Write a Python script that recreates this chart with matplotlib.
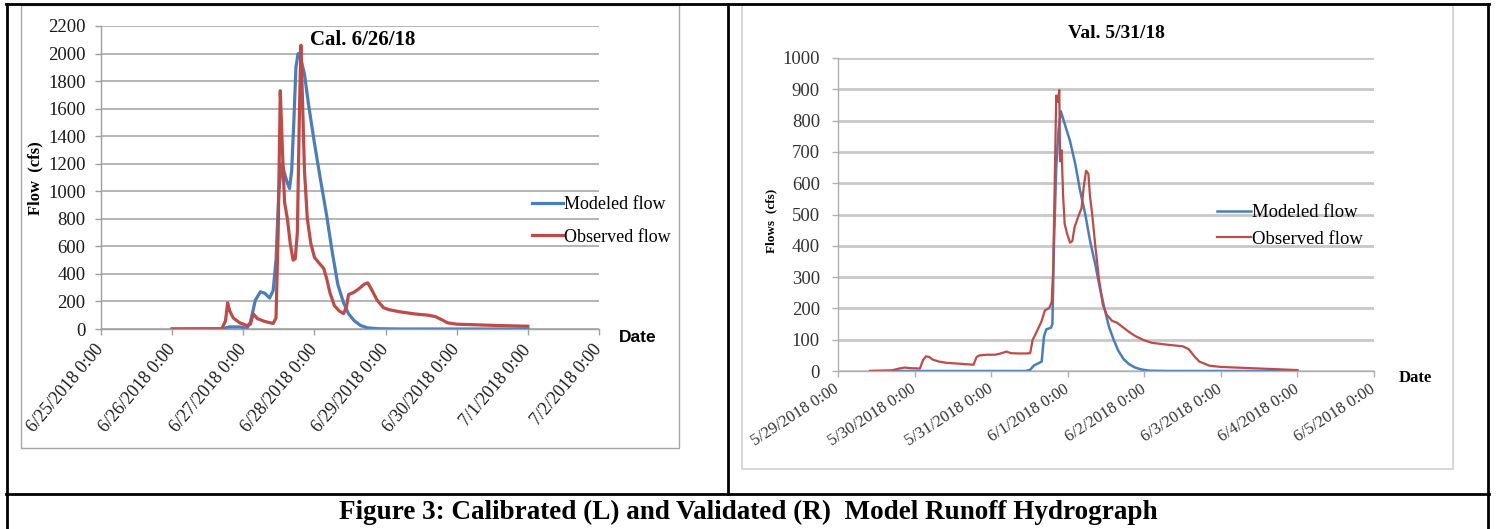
import matplotlib
matplotlib.use("Agg")
import matplotlib.pyplot as plt
from matplotlib.lines import Line2D
from matplotlib.patches import Rectangle

W, H = 1497, 529
SERIF = "Liberation Serif"
BLUE = "#4A7EBB"
RED = "#BE4B48"

# calibration event, time in days after 6/25/2018 0:00
cal_ticks = ["6/25/2018 0:00", "6/26/2018 0:00", "6/27/2018 0:00", "6/28/2018 0:00",
             "6/29/2018 0:00", "6/30/2018 0:00", "7/1/2018 0:00", "7/2/2018 0:00"]
cal_obs_t = [1.00, 1.70, 1.75, 1.78, 1.81, 1.86, 1.95, 2.05, 2.10, 2.14, 2.20, 2.30,
             2.42, 2.46, 2.49, 2.52, 2.55, 2.58, 2.62, 2.66, 2.70, 2.73, 2.76, 2.79,
             2.81, 2.83, 2.86, 2.90, 2.95, 3.00, 3.08, 3.13, 3.17, 3.22, 3.28, 3.35,
             3.41, 3.45, 3.48, 3.55, 3.62, 3.70, 3.75, 3.80, 3.88, 3.97, 4.05, 4.20,
             4.40, 4.60, 4.70, 4.78, 4.87, 5.00, 5.30, 5.60, 6.00]
cal_obs_q = [0, 2, 60, 190, 130, 80, 45, 25, 35, 110, 75, 55,
             40, 80, 700, 1730, 1300, 920, 800, 620, 500, 510, 700, 1600,
             2060, 1700, 1150, 800, 620, 520, 470, 440, 370, 260, 170, 130,
             112, 160, 250, 265, 290, 325, 335, 290, 210, 155, 140, 125,
             110, 100, 90, 70, 45, 35, 30, 25, 20]
cal_mod_t = [1.00, 1.70, 1.80, 1.95, 2.05, 2.10, 2.17, 2.24, 2.30, 2.37, 2.42, 2.46,
             2.50, 2.54, 2.58, 2.62, 2.65, 2.68, 2.71, 2.74, 2.77, 2.81, 2.86, 2.92,
             3.00, 3.08, 3.17, 3.25, 3.33, 3.41, 3.48, 3.56, 3.65, 3.75, 3.90, 4.20,
             6.00]
cal_mod_q = [0, 0, 15, 15, 5, 50, 210, 270, 260, 225, 280, 500,
             1000, 1200, 1130, 1060, 1020, 1150, 1500, 1900, 2000, 1960, 1850, 1620,
             1350, 1100, 830, 560, 320, 190, 110, 60, 25, 8, 2, 0,
             0]

# validation event, time in days after 5/29/2018 0:00
val_ticks = ["5/29/2018 0:00", "5/30/2018 0:00", "5/31/2018 0:00", "6/1/2018 0:00",
             "6/2/2018 0:00", "6/3/2018 0:00", "6/4/2018 0:00", "6/5/2018 0:00"]
val_obs_t = [0.42, 0.70, 0.80, 0.87, 0.95, 1.07, 1.11, 1.15, 1.19, 1.24, 1.32, 1.42,
             1.60, 1.77, 1.81, 1.85, 1.94, 2.05, 2.11, 2.20, 2.26, 2.35, 2.45, 2.51,
             2.54, 2.60, 2.66, 2.70, 2.76, 2.79, 2.81, 2.83, 2.85, 2.87, 2.89, 2.90,
             2.92, 2.94, 2.96, 2.99, 3.03, 3.06, 3.09, 3.14, 3.18, 3.21, 3.24, 3.27,
             3.29, 3.32, 3.36, 3.41, 3.46, 3.51, 3.58, 3.64, 3.72, 3.80, 3.88, 3.99,
             4.10, 4.30, 4.50, 4.58, 4.65, 4.72, 4.85, 5.00, 5.30, 5.60, 6.00]
val_obs_q = [0, 2, 8, 11, 9, 8, 35, 47, 45, 36, 30, 26,
             23, 20, 45, 50, 52, 52, 55, 62, 57, 56, 56, 57,
             98, 128, 160, 193, 202, 220, 320, 600, 880, 860, 898, 670,
             705, 560, 470, 440, 410, 415, 460, 495, 520, 590, 640, 630,
             560, 500, 400, 290, 210, 180, 160, 155, 140, 125, 112, 99,
             90, 84, 79, 70, 48, 30, 17, 13, 10, 7, 3]
val_mod_t = [0.42, 2.45, 2.51, 2.56, 2.62, 2.66, 2.69, 2.72, 2.78, 2.80, 2.82, 2.85,
             2.88, 2.91, 2.96, 3.03, 3.10, 3.16, 3.23, 3.29, 3.36, 3.42, 3.48, 3.54,
             3.60, 3.66, 3.73, 3.80, 3.88, 3.96, 4.07, 4.30, 6.00]
val_mod_q = [0, 0, 4, 18, 25, 30, 110, 133, 138, 150, 400, 650,
             770, 830, 790, 735, 660, 578, 500, 418, 340, 265, 200, 140,
             100, 65, 38, 22, 11, 5, 1, 0, 0]


def fx(x):
    return x / W


def fy(y):
    return 1 - y / H


def rect(x0, y0, x1, y1):
    return [fx(x0), fy(y1), (x1 - x0) / W, (y1 - y0) / H]


def hline(fig, x0, x1, y, **kw):
    fig.add_artist(Line2D([fx(x0), fx(x1)], [fy(y), fy(y)], transform=fig.transFigure, **kw))


def vline(fig, x, y0, y1, **kw):
    fig.add_artist(Line2D([fx(x), fx(x)], [fy(y0), fy(y1)], transform=fig.transFigure, **kw))


def style_axes(ax, ymax, ystep, labels, xfs, yfs, rot, grid_c, grid_w, axis_c, tick_c, ypad, xpad):
    ax.set_xlim(0, 7)
    ax.set_ylim(0, ymax)
    ax.set_yticks(range(0, ymax + 1, ystep))
    ax.set_xticks(range(8))
    ax.set_xticklabels(labels, rotation=rot, ha="right", va="center",
                       rotation_mode="anchor")
    for s in ["top", "right"]:
        ax.spines[s].set_visible(False)
    for s in ["left", "bottom"]:
        ax.spines[s].set_color(axis_c)
        ax.spines[s].set_linewidth(1.0)
    ax.tick_params(axis="both", labelfontfamily=SERIF, labelcolor=tick_c)
    ax.tick_params(axis="y", direction="out", length=4, width=1, color=axis_c, pad=ypad,
                   labelsize=yfs)
    ax.tick_params(axis="x", direction="out", length=4, width=1, color=axis_c, pad=xpad,
                   labelsize=xfs)
    ax.yaxis.grid(True, color=grid_c, linewidth=grid_w)
    ax.set_axisbelow(True)
    ax.patch.set_alpha(0)


fig = plt.figure(figsize=(W / 100, H / 100), dpi=100)

# table borders
kw = dict(color="black", linewidth=2.0)
hline(fig, 6, 1489, 4, **kw)
hline(fig, 6, 1489, 494, **kw)
vline(fig, 6.5, 4, 529, **kw)
vline(fig, 1488, 4, 529, **kw)
vline(fig, 727.5, 4, 494, **kw)

# chart frames
fig.add_artist(Rectangle((fx(21), fy(448)), (679 - 21) / W, (448 - 5) / H,
                         transform=fig.transFigure, fill=False, edgecolor="#A6A6A6", linewidth=1.0))
fig.add_artist(Rectangle((fx(742), fy(469)), (1453 - 742) / W, (469 - 5) / H,
                         transform=fig.transFigure, fill=False, edgecolor="#D0D0D0", linewidth=1.2))

# calibrated
ax1 = fig.add_axes(rect(101, 26, 599, 329))
ax1.plot(cal_mod_t, cal_mod_q, color=BLUE, linewidth=2.3, label="Modeled flow")
ax1.plot(cal_obs_t, cal_obs_q, color=RED, linewidth=2.3, label="Observed flow")
style_axes(ax1, 2200, 200, cal_ticks, 13, 13.5, 50, "#A0A0A0", 1.1, "#A0A0A0", "#1a1a1a", 7, 9)
ax1.legend(loc="center left", bbox_to_anchor=(fx(532), fy(221)), bbox_transform=fig.transFigure,
           frameon=False, prop={"family": SERIF, "size": 13}, handlelength=1.7,
           handletextpad=0.1, labelspacing=0.85, borderpad=0, borderaxespad=0)
fig.text(fx(363), fy(40), "Cal. 6/26/18", family=SERIF, fontsize=15, fontweight="bold",
         ha="center", va="center")
fig.text(fx(35), fy(178), "Flow  (cfs)", family=SERIF, fontsize=12, fontweight="bold",
         rotation=90, ha="center", va="center")
fig.text(fx(638), fy(338), "Date", family="Liberation Sans", fontsize=12.5, fontweight="bold",
         ha="center", va="center")

# validated
ax2 = fig.add_axes(rect(838, 58, 1374, 371))
ax2.plot(val_mod_t, val_mod_q, color=BLUE, linewidth=1.8, label="Modeled flow")
ax2.plot(val_obs_t, val_obs_q, color=RED, linewidth=1.6, label="Observed flow")
style_axes(ax2, 1000, 100, val_ticks, 12, 13.5, 33, "#C8C8C8", 2.0, "#B0B0B0", "#333333", 9, 8)
ax2.legend(loc="center left", bbox_to_anchor=(fx(1217), fy(226)), bbox_transform=fig.transFigure,
           frameon=False, prop={"family": SERIF, "size": 13.5}, handlelength=1.8,
           handletextpad=0.05, labelspacing=0.5, borderpad=0, borderaxespad=0)
fig.text(fx(1116), fy(34), "Val. 5/31/18", family=SERIF, fontsize=14, fontweight="bold",
         ha="center", va="center")
fig.text(fx(771), fy(221), "Flows  (cfs)", family=SERIF, fontsize=9.5, fontweight="bold",
         rotation=90, ha="center", va="center")
fig.text(fx(1415), fy(378), "Date", family=SERIF, fontsize=12, fontweight="bold",
         ha="center", va="center")

fig.text(fx(748), fy(512), "Figure 3: Calibrated (L) and Validated (R)  Model Runoff Hydrograph",
         family=SERIF, fontsize=19.5, fontweight="bold", ha="center", va="center")

fig.savefig("out.png", dpi=100)
